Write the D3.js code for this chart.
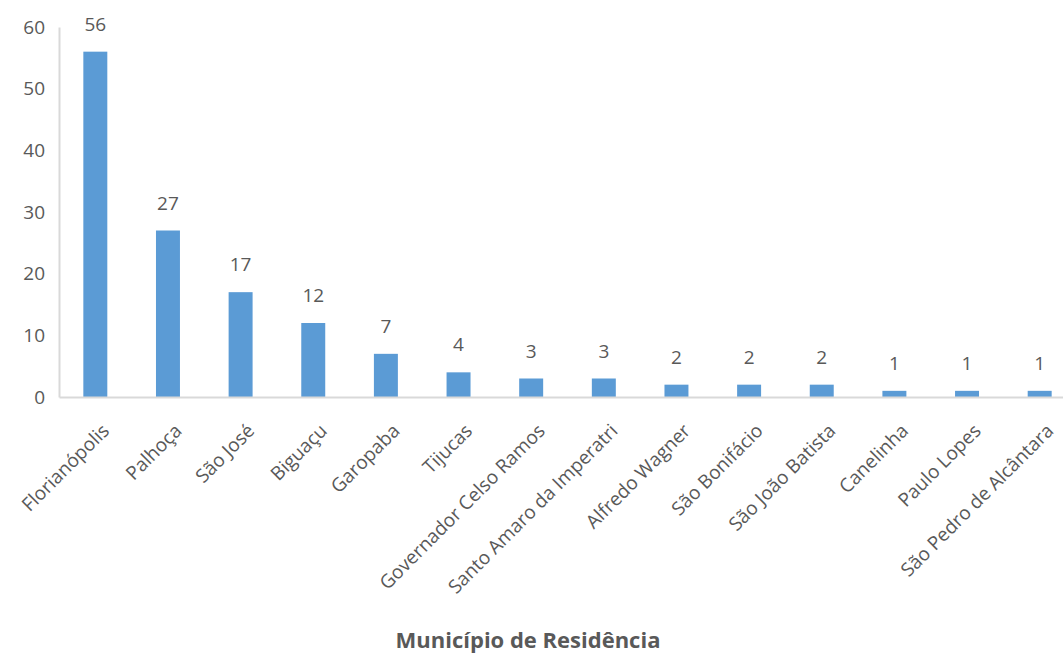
<!DOCTYPE html>
<html>
<head>
<meta charset="utf-8">
<script src="https://cdn.jsdelivr.net/npm/d3@7"></script>
<style>
  body { margin: 0; background: #fff; }
  text { font-family: "Open Sans", "Noto Sans", sans-serif; fill: #595959; }
</style>
</head>
<body>
<div id="chart-area"></div>
<script>
// municipios e contagens
var municipios = ["Florianópolis", "Palhoça", "São José", "Biguaçu", "Garopaba", "Tijucas",
    "Governador Celso Ramos", "Santo Amaro da Imperatri", "Alfredo Wagner", "São Bonifácio",
    "São João Batista", "Canelinha", "Paulo Lopes", "São Pedro de Alcântara"];
var contagens = [56, 27, 17, 12, 7, 4, 3, 3, 2, 2, 2, 1, 1, 1];
var yTicks = [0, 10, 20, 30, 40, 50, 60];
var xTitle = "Município de Residência";

var data = municipios.map(function(m, i) { return {nome: m, valor: contagens[i]}; });

var W = 1063, H = 655;
var mLeft = 59, mRight = 1076, mTop = 27, mBottom = 397;

var svg = d3.select("#chart-area")
    .append("svg")
        .attr("width", W)
        .attr("height", H);

var x = d3.scaleBand()
    .domain(municipios)
    .range([mLeft, mRight])
    .paddingInner(0.67)
    .paddingOuter(0.335);

var y = d3.scaleLinear()
    .domain([0, 60])
    .range([mBottom, mTop]);

// y axis
var yAxisCall = d3.axisLeft(y).tickValues(yTicks).tickSize(0).tickPadding(14);
var yAxis = svg.append("g")
    .attr("transform", "translate(" + mLeft + ",0)")
    .call(yAxisCall);
yAxis.select(".domain").attr("stroke", "#d9d9d9").attr("stroke-width", 2);
yAxis.selectAll("text")
    .attr("font-size", "19px")
    .attr("fill", "#595959")
    .style("font-family", "'Open Sans', sans-serif");

// bars
svg.selectAll("rect.bar")
    .data(data)
    .enter()
    .append("rect")
        .attr("class", "bar")
        .attr("x", function(d) { return x(d.nome); })
        .attr("y", function(d) { return y(d.valor); })
        .attr("width", x.bandwidth())
        .attr("height", function(d) { return mBottom - y(d.valor); })
        .attr("fill", "#5b9bd5");

// x axis line
var xAxisCall = d3.axisBottom(x).tickSize(0).tickFormat("");
var xAxis = svg.append("g")
    .attr("transform", "translate(0," + mBottom + ")")
    .call(xAxisCall);
xAxis.select(".domain").attr("stroke", "#d9d9d9").attr("stroke-width", 2);

// category labels, rotated
svg.selectAll("text.cat")
    .data(data)
    .enter()
    .append("text")
        .attr("class", "cat")
        .attr("text-anchor", "end")
        .attr("font-size", "19px")
        .attr("transform", function(d) {
            var cx = x(d.nome) + x.bandwidth() / 2 + 15;
            return "translate(" + cx + ",432) rotate(-45)";
        })
        .text(function(d) { return d.nome; });

// value labels
svg.selectAll("text.val")
    .data(data)
    .enter()
    .append("text")
        .attr("class", "val")
        .attr("text-anchor", "middle")
        .attr("font-size", "19px")
        .attr("x", function(d) { return x(d.nome) + x.bandwidth() / 2; })
        .attr("y", function(d) { return y(d.valor) - 21; })
        .text(function(d) { return d.valor; });

// x title
svg.append("text")
    .attr("x", 528)
    .attr("y", 648)
    .attr("text-anchor", "middle")
    .attr("font-size", "22px")
    .attr("font-weight", "bold")
    .text(xTitle);
</script>
</body>
</html>
